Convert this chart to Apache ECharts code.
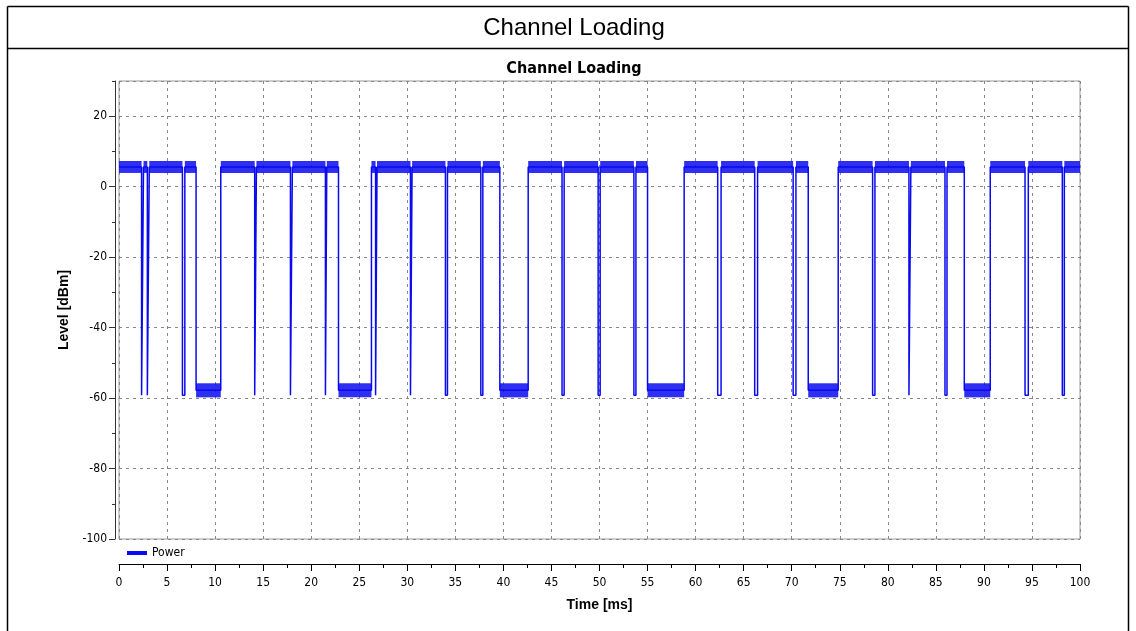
<!DOCTYPE html>
<html>
<head>
<meta charset="utf-8">
<script src="https://cdn.jsdelivr.net/npm/echarts@6/dist/echarts.min.js"></script>
<style>
html,body{margin:0;padding:0;background:#fff;}
#chart{width:1136px;height:631px;}
</style>
</head>
<body>
<div id="chart"></div>
<script>
// ---- data ----
const chartTitle = 'Channel Loading';
const seriesName = 'Power';
const xTicks = [0, 5, 10, 15, 20, 25, 30, 35, 40, 45, 50, 55, 60, 65, 70, 75, 80, 85, 90, 95, 100];
const yTicks = [-100, -80, -60, -40, -20, 0, 20];
// carrier level and its noise band (dBm)
const onLevel = 5.6;
const onBand = [3.9, 7.3];
// short drop-outs (start ms, end ms) and their floor level
const narrowDips = [[2.35,2.55],[2.95,3.15],[6.6,6.85],[14.12,14.3],[17.84,18.04],[21.48,21.62],
  [26.7,26.85],[30.33,30.5],[33.97,34.18],[37.65,37.86],[46.1,46.32],[49.86,50.07],[53.58,53.79],
  [62.3,62.65],[66.15,66.45],[70.15,70.44],[78.42,78.66],[82.2,82.4],[85.95,86.16],[94.28,94.62],[98.16,98.37]];
const dipLevel = -59.2;
// long gaps (start ms, end ms), their noise floor and band
const wideGaps = [[8.02,10.59],[22.84,26.27],[39.63,42.58],[55.0,58.81],[71.72,74.84],[87.96,90.66]];
const gapLevel = -57.8;
const gapBand = [-59.8, -55.8];

// ---- build line from the segments ----
const events = narrowDips.map(d => ({s:d[0], e:d[1], low:dipLevel}))
  .concat(wideGaps.map(g => ({s:g[0], e:g[1], low:gapLevel})))
  .sort((a,b) => a.s - b.s);
const lineData = [[xTicks[0], onLevel]];
events.forEach(ev => {
  lineData.push([ev.s, onLevel], [ev.s, ev.low], [ev.e, ev.low], [ev.e, onLevel]);
});
lineData.push([xTicks[xTicks.length-1], onLevel]);

// noise bands as areas in data coordinates
const bandAreas = [];
let cur = xTicks[0];
events.forEach(ev => {
  bandAreas.push([{xAxis: cur, yAxis: onBand[0]}, {xAxis: ev.s, yAxis: onBand[1]}]);
  cur = ev.e;
});
bandAreas.push([{xAxis: cur, yAxis: onBand[0]}, {xAxis: xTicks[xTicks.length-1], yAxis: onBand[1]}]);
wideGaps.forEach(g => bandAreas.push([{xAxis: g[0], yAxis: gapBand[0]}, {xAxis: g[1], yAxis: gapBand[1]}]));

const BLUE = '#0a0af0';
const narrow = "'DejaVu Sans Condensed', 'Liberation Sans Narrow', 'Arial Narrow', sans-serif";
const sans = "'Liberation Sans', Arial, sans-serif";

const chart = echarts.init(document.getElementById('chart'));
chart.setOption({
  animation: false,
  backgroundColor: '#fff',
  graphic: [
    {type:'line', shape:{x1:7.5,y1:6.5,x2:1128.5,y2:6.5}, style:{stroke:'#000',lineWidth:1.5}},
    {type:'line', shape:{x1:7.5,y1:6.5,x2:7.5,y2:631}, style:{stroke:'#000',lineWidth:1.5}},
    {type:'line', shape:{x1:1128.5,y1:6.5,x2:1128.5,y2:631}, style:{stroke:'#000',lineWidth:1.5}},
    {type:'line', shape:{x1:7.5,y1:48.5,x2:1128.5,y2:48.5}, style:{stroke:'#000',lineWidth:1.5}},
    {type:'text', x:574, y:28, style:{text:chartTitle, fontSize:24, fontFamily:sans, fill:'#000', textAlign:'center', textVerticalAlign:'middle'}},
    {type:'text', x:574, y:69, style:{text:chartTitle, fontSize:16, fontWeight:'bold', fontFamily:narrow, fill:'#000', textAlign:'center', textVerticalAlign:'middle'}}
  ],
  legend: {
    data: [seriesName], left: 122, top: 542, icon: 'rect', itemWidth: 20, itemHeight: 4, itemGap: 5,
    textStyle: {fontSize: 12, fontFamily: narrow, color: '#000'}
  },
  grid: {left: 119, right: 56, top: 81, bottom: 92, show: true, borderColor: '#9a9a9a', borderWidth: 1},
  xAxis: {
    type: 'value', min: xTicks[0], max: xTicks[xTicks.length-1], interval: 5, offset: 25,
    name: 'Time [ms]', nameLocation: 'middle', nameGap: 34,
    nameTextStyle: {fontSize: 14, fontWeight: 'bold', fontFamily: sans, color: '#000'},
    axisLine: {show: true, onZero: false, lineStyle: {color: '#000', width: 1}},
    axisTick: {show: true, length: 7, lineStyle: {color: '#000'}},
    minorTick: {show: true, splitNumber: 2, length: 4, lineStyle: {color: '#000'}},
    axisLabel: {fontSize: 12, fontFamily: narrow, color: '#000', margin: 13},
    splitLine: {show: true, lineStyle: {color: '#888', type: [3, 4], width: 1}}
  },
  yAxis: [{
    type: 'value', min: -100, max: 30, interval: 20, offset: 4, position: 'left',
    name: 'Level [dBm]', nameLocation: 'middle', nameGap: 42,
    nameTextStyle: {fontSize: 14, fontWeight: 'bold', fontFamily: sans, color: '#000'},
    axisLine: {show: true, onZero: false, lineStyle: {color: '#333', width: 1}},
    axisTick: {show: true, length: 6, lineStyle: {color: '#333'}},
    axisLabel: {fontSize: 12, fontFamily: narrow, color: '#000', margin: 8, showMaxLabel: false,
      formatter: v => yTicks.indexOf(v) >= 0 ? String(v) : ''},
    splitLine: {show: true, lineStyle: {color: '#888', type: [3, 4], width: 1}}
  }, {
    type: 'value', min: -100, max: 30, interval: 10, offset: 4, position: 'left',
    axisLine: {show: false, onZero: false},
    axisTick: {show: true, length: 3, lineStyle: {color: '#333'}},
    axisLabel: {show: false},
    splitLine: {show: false}
  }],
  series: [{
    name: seriesName, type: 'line', yAxisIndex: 0, data: lineData, showSymbol: false, symbol: 'none',
    color: BLUE, lineStyle: {color: BLUE, width: 1.5}, silent: true,
    markArea: {silent: true, itemStyle: {color: BLUE, opacity: 0.85, borderWidth: 0}, data: bandAreas}
  }]
});
</script>
</body>
</html>
